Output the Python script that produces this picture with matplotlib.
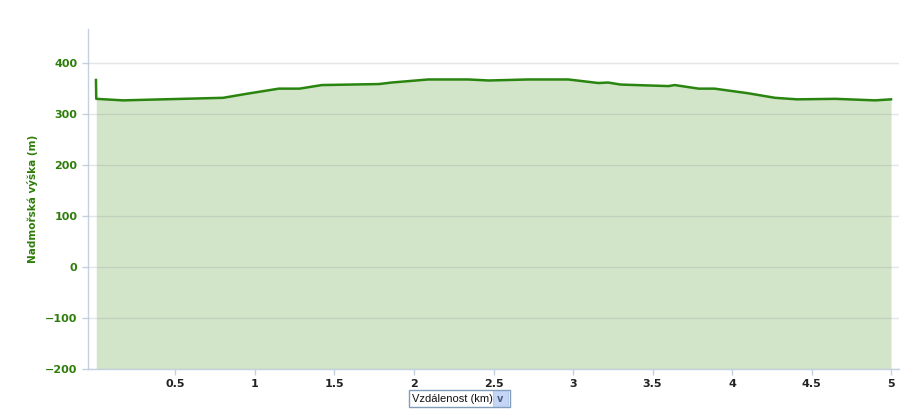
import matplotlib.pyplot as plt
from matplotlib.patches import Rectangle

# elevation profile (km, m)
dist_km = [0.0, 0.002, 0.17, 0.42, 0.80, 0.95, 1.15, 1.28, 1.42, 1.78, 1.86, 2.09, 2.34,
           2.47, 2.72, 2.97, 3.16, 3.22, 3.30, 3.60, 3.64, 3.79, 3.89, 4.10, 4.27,
           4.41, 4.65, 4.90, 5.0]
elev_m = [367, 330, 327, 329, 332, 340, 350, 350, 357, 359, 362, 368, 368,
          366, 368, 368, 361, 362, 358, 355, 357, 350, 350, 341, 332,
          329, 330, 327, 329]

x_ticks = [0.5, 1, 1.5, 2, 2.5, 3, 3.5, 4, 4.5, 5]
x_tick_labels = ['0.5', '1', '1.5', '2', '2.5', '3', '3.5', '4', '4.5', '5']
y_ticks = [-200, -100, 0, 100, 200, 300, 400]

green_txt = '#2e7d0a'
line_col = '#2a8510'
fill_col = '#d2e5c9'
axis_col = '#c3d1e0'

fig = plt.figure(figsize=(9.24, 4.2), dpi=100)
ax = fig.add_axes([88 / 924, 51 / 420, (899 - 88) / 924, (369 - 29) / 420])

ax.fill_between(dist_km[1:], elev_m[1:], -200, color=fill_col, zorder=1, linewidth=0)
ax.plot(dist_km, elev_m, color=line_col, linewidth=1.8, zorder=3)

ax.set_xlim(-0.05, 5.05)
ax.set_ylim(-200, 467)
ax.set_xticks(x_ticks)
ax.set_xticklabels(x_tick_labels)
ax.set_yticks(y_ticks)

ax.set_axisbelow(False)
ax.grid(axis='y', color='#999999', alpha=0.25, linewidth=1)
ax.grid(axis='x', visible=False)

for s in ['top', 'right']:
    ax.spines[s].set_visible(False)
for s in ['left', 'bottom']:
    ax.spines[s].set_color(axis_col)
    ax.spines[s].set_linewidth(1)

ax.tick_params(axis='both', colors=axis_col, length=4, width=1)
for lab in ax.get_xticklabels() + ax.get_yticklabels():
    lab.set_color(green_txt)
    lab.set_fontweight('bold')
    lab.set_fontsize(8)
for lab in ax.get_xticklabels():
    lab.set_color('#222222')

ax.set_ylabel('Nadmořská výška (m)', color=green_txt, fontsize=7.5, fontweight='bold', labelpad=5)

# dropdown for the x axis
fig.text(412 / 924, 1 - 399 / 420, 'Vzdálenost (km)', fontsize=8, color='#111111',
         va='center', ha='left', family='Liberation Sans')
fig.patches.append(Rectangle((409 / 924, 1 - 407 / 420), 101 / 924, 17 / 420,
                             transform=fig.transFigure, facecolor='none',
                             edgecolor='#7f9db9', linewidth=1))
fig.patches.append(Rectangle((493 / 924, 1 - 406 / 420), 15 / 924, 15 / 420,
                             transform=fig.transFigure, facecolor='#c5d5f5',
                             edgecolor='#b7c9ef', linewidth=0.8))
fig.text(500.5 / 924, 1 - 399 / 420, 'v', fontsize=7, fontweight='bold', color='#4d6185',
         va='center', ha='center')

fig.savefig('out.png', dpi=100)
